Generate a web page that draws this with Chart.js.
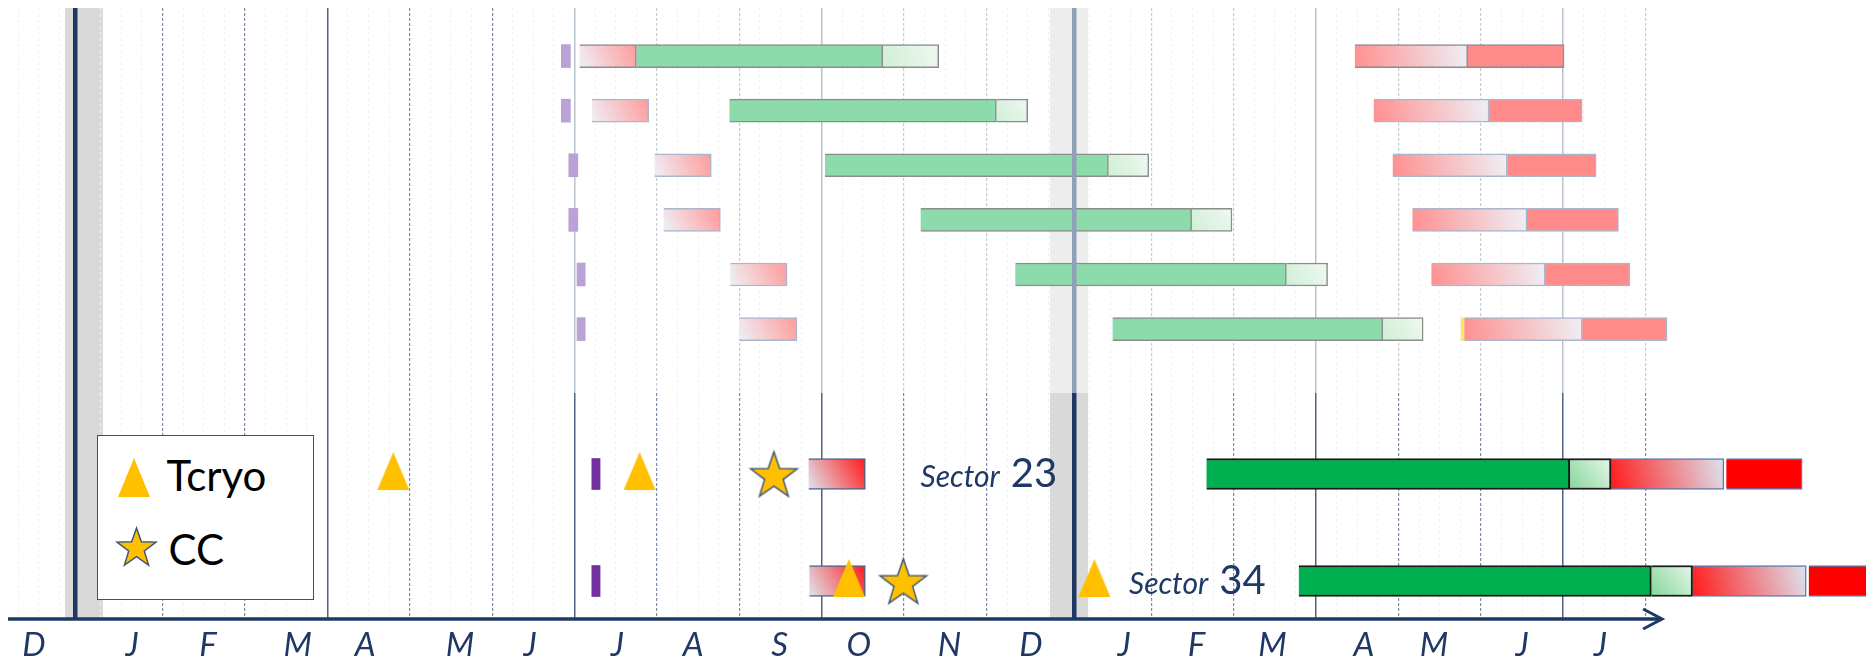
<!DOCTYPE html>
<html lang="en">
<head>
    <meta charset="UTF-8">
    <title>Sector 23 / Sector 34 schedule</title>
    <script src="https://cdn.jsdelivr.net/npm/chart.js"></script>
    <style>
        body {
            margin: 0;
            background: #fff;
            overflow: hidden;
            font-family: 'Lato', sans-serif;
        }

        .page {
            position: relative;
            width: 1866px;
            height: 657px;
            overflow: hidden;
        }

        .top-box {
            position: absolute;
            left: 0;
            top: 0;
            width: 1866px;
            height: 393px;
        }

        .bottom-box {
            position: absolute;
            left: 0;
            top: 393px;
            width: 1866px;
            height: 273px;
        }

        .legend {
            position: absolute;
            left: 97px;
            top: 435px;
            width: 217px;
            height: 165px;
            box-sizing: border-box;
            background: #fff;
            border: 1.5px solid #2f528f;
            z-index: 2;
        }

        .legend canvas,
        .legend span {
            position: absolute;
        }

        .legend span {
            font-size: 42px;
            line-height: 42px;
            color: #000;
        }
    </style>
</head>
<body>
    <div class="page">
        <div class="top-box"><canvas id="topChart"></canvas></div>
        <div class="bottom-box"><canvas id="bottomChart"></canvas></div>
        <div class="legend" id="legend"></div>
    </div>

    <script>
        // x axis is in months, 0 = start of the first January
        const monthLabels = ['D', 'J', 'F', 'M', 'A', 'M', 'J', 'J', 'A', 'S', 'O', 'N', 'D', 'J', 'F', 'M', 'A', 'M', 'J', 'J'];
        const monthLabelAt = [-0.56, 0.63, 1.55, 2.64, 3.46, 4.61, 5.46, 6.52, 7.44, 8.49, 9.45, 10.55, 11.54, 12.67, 13.55, 14.47, 15.58, 16.43, 17.50, 18.45];
        const monthLines = [1, 2, 4, 5, 7, 8, 10, 11, 13, 14, 16, 17, 19];
        const quarterLines = [3, 6, 9, 15, 18];
        const yearLines = [-0.06, 12.07];
        const bandCenters = [0.05, 12.0];
        const axisEnd = 19.2;

        // upper (faded) part: six rows
        const topRows = [0, 1, 2, 3, 4, 5];
        const topPurple = [[5.84, 5.95], [5.84, 5.95], [5.93, 6.04], [5.93, 6.04], [6.03, 6.13], [6.03, 6.13]];
        const topPrep = [[6.06, 6.75], [6.21, 6.90], [6.97, 7.66], [7.08, 7.77], [7.89, 8.58], [8.00, 8.70]];
        const topGreen = [[6.75, 9.74], [7.88, 11.12], [9.04, 12.48], [10.20, 13.49], [11.35, 14.64], [12.53, 15.81]];
        const topGreenTail = [[9.74, 10.42], [11.12, 11.50], [12.48, 12.97], [13.49, 13.98], [14.64, 15.14], [15.81, 16.30]];
        const topRamp = [[15.47, 16.84], [15.70, 17.10], [15.93, 17.32], [16.17, 17.56], [16.40, 17.78], [16.80, 18.23]];
        const topRed = [[16.84, 18.01], [17.10, 18.23], [17.32, 18.40], [17.56, 18.67], [17.78, 18.81], [18.23, 19.26]];
        const topYellowRows = [5];
        const topYellow = [[16.76, 16.80]];

        // lower part: the two sectors
        const sectors = ['Sector 23', 'Sector 34'];
        const sectorRows = [0, 1];
        const sectorLabelAt = [10.20, 12.73];
        const botPurple = [[6.21, 6.31], [6.21, 6.31]];
        const botPrep = [[8.84, 9.53], [8.85, 9.53]];
        const botGreen = [[13.67, 18.08], [14.79, 19.07]];
        const botGreenTail = [[18.08, 18.58], [19.07, 19.57]];
        const botRamp = [[18.58, 19.95], [19.57, 20.95]];
        const botRed = [[19.98, 20.90], [20.98, 22.0]];
        const tcryoX = [3.80, 6.79, 9.33, 12.31];
        const tcryoRows = [0, 0, 1, 1];
        const ccX = [8.42, 9.99];
        const ccRows = [0, 1];

        const X_MIN = -0.876;
        const X_MAX = 21.675;
        const FADE_FROM = 5.85;

        const weekLines = [];
        for (let m = -0.75; m <= 19; m += 0.25) {
            if (m % 1 !== 0) weekLines.push(m);
        }

        Chart.defaults.font.family = 'Lato';

        function spans(values, rows) {
            return values.map((v, i) => ({ x: v, y: rows[i] }));
        }

        function points(xs, rows) {
            return xs.map((v, i) => ({ x: v, y: rows[i] }));
        }

        // diagonal gradient across one bar, from bottom-left to top-right
        function barGradient(from, to) {
            return (c) => {
                if (c.type !== 'data') return to;
                const chart = c.chart;
                const xs = chart.scales.x;
                const ys = chart.scales.y;
                const x0 = xs.getPixelForValue(c.raw.x[0]);
                const x1 = xs.getPixelForValue(c.raw.x[1]);
                const yc = ys.getPixelForValue(c.raw.y);
                const half = c.dataset.barThickness / 2;
                if (![x0, x1, yc].every(Number.isFinite)) return to;
                const g = chart.ctx.createLinearGradient(x0, yc + half, x1, yc - half);
                g.addColorStop(0, from);
                g.addColorStop(1, to);
                return g;
            };
        }

        // triangle sits in the upper part of its canvas (drawn a bit above the row centre)
        function triangleMarker(w, h, pad) {
            const c = document.createElement('canvas');
            c.width = w;
            c.height = h + pad;
            const g = c.getContext('2d');
            g.fillStyle = '#ffc000';
            g.beginPath();
            g.moveTo(w / 2, 0);
            g.lineTo(w, h);
            g.lineTo(0, h);
            g.closePath();
            g.fill();
            return c;
        }

        function starMarker(r) {
            const size = Math.ceil(2 * r + 4);
            const c = document.createElement('canvas');
            c.width = size;
            c.height = size;
            const g = c.getContext('2d');
            const cx = size / 2;
            const cy = size / 2 + r * 0.095;
            g.beginPath();
            for (let k = 0; k < 10; k++) {
                const rad = k % 2 ? r * 0.4 : r;
                const a = -Math.PI / 2 + k * Math.PI / 5;
                g.lineTo(cx + rad * Math.cos(a), cy + rad * Math.sin(a));
            }
            g.closePath();
            g.fillStyle = '#ffc000';
            g.fill();
            g.lineWidth = 1.5;
            g.strokeStyle = '#41577a';
            g.stroke();
            return c;
        }

        // fixed axis height, no side padding
        function fixFit(height) {
            return (a) => {
                a.height = height;
                a.paddingLeft = 0;
                a.paddingRight = 0;
                a.paddingTop = 0;
                a.paddingBottom = 0;
            };
        }

        // grid-only x axis (no labels, no height)
        function gridAxis(values, grid, dash) {
            return {
                type: 'linear',
                axis: 'x',
                position: 'bottom',
                offset: false,
                min: X_MIN,
                max: X_MAX,
                afterBuildTicks: (a) => { a.ticks = values.map(v => ({ value: v })); },
                afterFit: fixFit(0),
                ticks: { display: false },
                border: { display: false, dash: dash || [] },
                grid: Object.assign({ drawTicks: false, offset: false }, grid)
            };
        }

        // faded colours right of FADE_FROM on the upper part
        function shade(dark, light, faded) {
            if (!faded) return dark;
            return (c) => (c.tick && c.tick.value >= FADE_FROM) ? light : dark;
        }

        function gridScales(faded) {
            return {
                xb: gridAxis(bandCenters, { color: shade('#d9d9d9', '#ededed', faded), lineWidth: 38 }),
                xw: gridAxis(weekLines, { color: '#eef0f3', lineWidth: 1 }, [3, 3]),
                xm: gridAxis(monthLines, { color: shade('#7d8ca5', '#c6cdd8', faded), lineWidth: 1.2 }, [3, 2]),
                xq: gridAxis(quarterLines, { color: shade('#4f6382', '#b9c2cf', faded), lineWidth: 1.5 }),
                xy: gridAxis(yearLines, { color: shade('#1f3864', '#8fa0b8', faded), lineWidth: 4.5, z: 1 })
            };
        }

        const barDefaults = { indexAxis: 'y', grouped: false, xAxisID: 'x', yAxisID: 'y', order: 1 };

        const topBorders = ['#8c8c8c', '#aab6cc', '#aab6cc', '#aab6cc', '#aab6cc', '#aab6cc'];

        new Chart(document.getElementById('topChart'), {
            type: 'bar',
            data: {
                datasets: [
                    Object.assign({ label: 'purple', data: spans(topPurple, topRows), backgroundColor: '#bba2d6', borderWidth: 0, barThickness: 23 }, barDefaults),
                    Object.assign({ label: 'prep', data: spans(topPrep, topRows), backgroundColor: barGradient('#eef0f6', '#ff9a9a'), borderColor: topBorders, borderWidth: 1.5, barThickness: 23 }, barDefaults),
                    Object.assign({ label: 'run', data: spans(topGreen, topRows), backgroundColor: '#8ddbab', borderColor: '#8c8c8c', borderWidth: 1.5, barThickness: 23 }, barDefaults),
                    Object.assign({ label: 'run end', data: spans(topGreenTail, topRows), backgroundColor: barGradient('#cfefd6', '#eff8f1'), borderColor: '#8c8c8c', borderWidth: 1.5, barThickness: 23 }, barDefaults),
                    Object.assign({ label: 'ramp', data: spans(topRamp, topRows), backgroundColor: barGradient('#ff8f8f', '#eef0f6'), borderColor: topBorders, borderWidth: 1.5, barThickness: 23 }, barDefaults),
                    Object.assign({ label: 'stop', data: spans(topRed, topRows), backgroundColor: '#ff8a8a', borderColor: topBorders, borderWidth: 1.5, barThickness: 23 }, barDefaults),
                    Object.assign({ label: 'mark', data: spans(topYellow, topYellowRows), backgroundColor: '#ffe46a', borderWidth: 0, barThickness: 23 }, barDefaults)
                ]
            },
            options: {
                responsive: true,
                maintainAspectRatio: false,
                animation: false,
                events: [],
                layout: { autoPadding: false, padding: { left: 8, right: 0, top: 8, bottom: 0 } },
                plugins: { legend: { display: false }, tooltip: { enabled: false } },
                scales: Object.assign(gridScales(true), {
                    x: {
                        type: 'linear', position: 'bottom', offset: false, min: X_MIN, max: X_MAX,
                        afterFit: fixFit(0),
                        ticks: { display: false },
                        grid: { display: false, drawTicks: false, offset: false },
                        border: { display: false }
                    },
                    y: { type: 'linear', display: false, offset: false, min: -0.88, max: 6.17, reverse: true }
                })
            }
        });

        const triangleImg = triangleMarker(32, 38, 6);
        const starImg = starMarker(24.5);

        // sector names and the arrowed time axis
        const bottomDecor = {
            id: 'bottomDecor',
            afterDatasetsDraw(chart) {
                const { ctx, scales: { x, y } } = chart;
                ctx.save();
                ctx.fillStyle = '#1f3864';
                ctx.textBaseline = 'alphabetic';
                sectors.forEach((name, i) => {
                    const [word, num] = name.split(' ');
                    let px = x.getPixelForValue(sectorLabelAt[i]);
                    const py = y.getPixelForValue(sectorRows[i]) + 13;
                    ctx.font = 'italic 30px Lato';
                    ctx.fillText(word, px, py);
                    px += ctx.measureText(word).width + 11;
                    ctx.font = '40px Lato';
                    ctx.fillText(num, px, py);
                });
                ctx.restore();
            },
            afterDraw(chart) {
                const { ctx, chartArea, scales: { x } } = chart;
                const yb = chartArea.bottom;
                const xe = x.getPixelForValue(axisEnd);
                ctx.save();
                ctx.strokeStyle = '#1f3864';
                ctx.lineWidth = 3.5;
                ctx.beginPath();
                ctx.moveTo(chartArea.left, yb);
                ctx.lineTo(xe - 1, yb);
                ctx.stroke();
                ctx.lineWidth = 3;
                ctx.lineJoin = 'miter';
                ctx.beginPath();
                ctx.moveTo(xe - 19, yb - 10);
                ctx.lineTo(xe, yb);
                ctx.lineTo(xe - 19, yb + 10);
                ctx.stroke();
                ctx.restore();
            }
        };

        const bottomChart = new Chart(document.getElementById('bottomChart'), {
            type: 'bar',
            data: {
                datasets: [
                    { type: 'scatter', label: 'Tcryo', data: points(tcryoX, tcryoRows), pointStyle: triangleImg, pointRadius: 12, xAxisID: 'x', yAxisID: 'y', order: 0 },
                    { type: 'scatter', label: 'CC', data: points(ccX, ccRows), pointStyle: starImg, pointRadius: 12, xAxisID: 'x', yAxisID: 'y', order: 0 },
                    Object.assign({ label: 'purple', data: spans(botPurple, sectorRows), backgroundColor: '#7030a0', borderWidth: 0, barThickness: 31 }, barDefaults),
                    Object.assign({ label: 'prep', data: spans(botPrep, sectorRows), backgroundColor: barGradient('#dfe5f0', '#ff1a1a'), borderColor: '#4a6591', borderWidth: 1.5, barThickness: 31 }, barDefaults),
                    Object.assign({ label: 'run', data: spans(botGreen, sectorRows), backgroundColor: '#00b050', borderColor: '#1a1a1a', borderWidth: 2, barThickness: 31 }, barDefaults),
                    Object.assign({ label: 'run end', data: spans(botGreenTail, sectorRows), backgroundColor: barGradient('#86d79a', '#e6f5e9'), borderColor: '#1a1a1a', borderWidth: 2, barThickness: 31 }, barDefaults),
                    Object.assign({ label: 'ramp', data: spans(botRamp, sectorRows), backgroundColor: barGradient('#ff1a1a', '#dde3ee'), borderColor: '#5b7bb0', borderWidth: 1.5, barThickness: 31 }, barDefaults),
                    Object.assign({ label: 'stop', data: spans(botRed, sectorRows), backgroundColor: '#ff0000', borderColor: '#5b7bb0', borderWidth: 1.5, barThickness: 31 }, barDefaults)
                ]
            },
            options: {
                responsive: true,
                maintainAspectRatio: false,
                animation: false,
                events: [],
                layout: { autoPadding: false, padding: { left: 8, right: 0, top: 0, bottom: 0 } },
                plugins: { legend: { display: false }, tooltip: { enabled: false } },
                scales: Object.assign(gridScales(false), {
                    x: {
                        type: 'linear', position: 'bottom', offset: false, min: X_MIN, max: X_MAX,
                        afterBuildTicks: (a) => { a.ticks = monthLabelAt.map(v => ({ value: v })); },
                        afterFit: fixFit(47),
                        ticks: {
                            autoSkip: false,
                            maxRotation: 0,
                            padding: 7,
                            color: '#1f3864',
                            font: { family: 'Lato', style: 'italic', size: 33, lineHeight: 1.2 },
                            callback: (v, i) => monthLabels[i]
                        },
                        grid: { display: false, drawTicks: false, offset: false },
                        border: { display: false }
                    },
                    y: { type: 'linear', display: false, offset: false, min: -0.757, max: 1.355, reverse: true }
                })
            },
            plugins: [bottomDecor]
        });

        // legend box built from the two marker datasets
        const legend = document.getElementById('legend');
        const legendMarkers = { Tcryo: triangleMarker(32, 39, 0), CC: starMarker(20.5) };
        const legendPlaces = [
            { marker: [19.5, 21.5], text: [68.5, 18] },
            { marker: [15.5, 88], text: [70.5, 92] }
        ];
        bottomChart.data.datasets.filter(d => d.type === 'scatter').forEach((d, i) => {
            const m = legendMarkers[d.label];
            m.style.left = legendPlaces[i].marker[0] + 'px';
            m.style.top = legendPlaces[i].marker[1] + 'px';
            legend.appendChild(m);
            const s = document.createElement('span');
            s.textContent = d.label;
            s.style.left = legendPlaces[i].text[0] + 'px';
            s.style.top = legendPlaces[i].text[1] + 'px';
            legend.appendChild(s);
        });
    </script>
</body>
</html>
